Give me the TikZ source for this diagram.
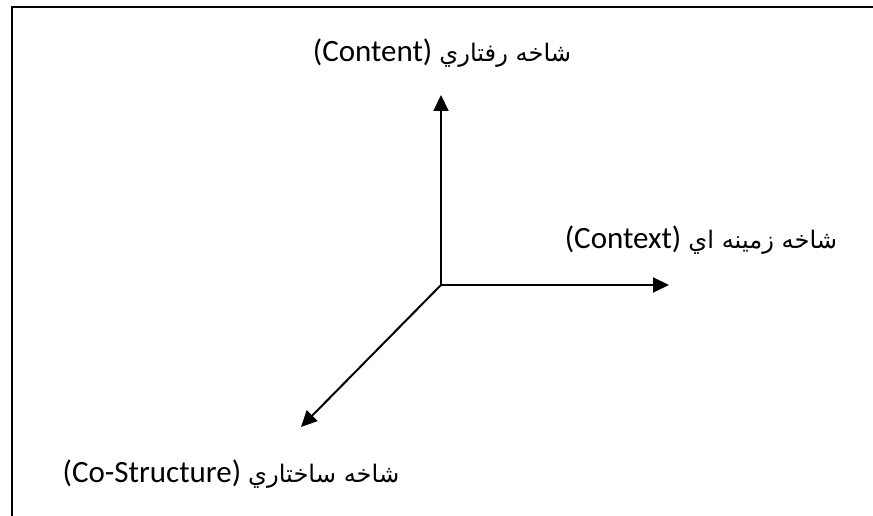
\documentclass[tikz,border=0pt]{standalone}
\usepackage{fontspec}
\usetikzlibrary{arrows.meta}
\TeXXeTstate=1
\setmainfont{Carlito}
\newfontfamily\arabicfont[Script=Arabic,Scale=0.78]{DejaVu Sans}
\tikzset{
  axislabel/.style={inner sep=0pt, font=\fontsize{31}{37}\selectfont},
  axis/.style={line width=2pt, -{Triangle[length=16pt,width=15pt]}},
  frameline/.style={line width=2.2pt}
}
\begin{document}
\begin{tikzpicture}[x=1pt,y=1pt]
  \useasboundingbox (0,0) rectangle (873,516);
  % open frame: top and left edges only
  \draw[frameline] (12,0) -- (12,509) -- (873,509);
  % origin of the three axes
  \coordinate (o) at (441,231);
  \coordinate (up) at (441,421);
  \coordinate (rt) at (669,231);
  \coordinate (dl) at (301,89);
  \draw[axis] (o) -- (up);
  \draw[axis] (o) -- (rt);
  \draw[axis] (o) -- (dl);
  % axis labels
  \node[axislabel] (content) at (442,463) {(Content) {\arabicfont\beginR شاخه رفتاري\endR}};
  \node[axislabel] (context) at (701,276) {(Context) {\arabicfont\beginR شاخه زمينه اي\endR}};
  \node[axislabel] (costruct) at (231,42) {(Co-Structure) {\arabicfont\beginR شاخه ساختاري\endR}};
\end{tikzpicture}
\end{document}
